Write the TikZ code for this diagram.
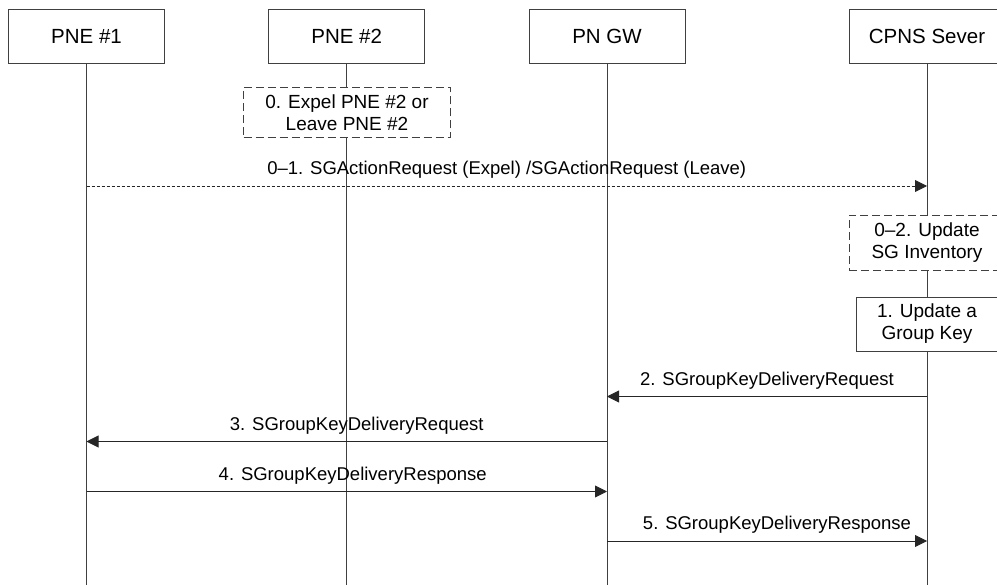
\documentclass[tikz,border=0pt]{standalone}
\usepackage{fontspec}
\setmainfont{Liberation Sans}
\usetikzlibrary{arrows.meta,positioning}

\begin{document}
\begin{tikzpicture}[
  x=1pt,y=-1pt,
  line width=0.9pt,
  actor/.style={draw=black!75,fill=white,minimum width=156pt,minimum height=54pt,inner sep=0pt,font=\fontsize{20.5}{24}\selectfont},
  note/.style={draw=black!75,fill=white,inner sep=0pt,align=center,font=\fontsize{19}{22}\selectfont},
  dnote/.style={note,dash pattern=on 8pt off 4pt},
  life/.style={black!75},
  msg/.style={-{Triangle[length=12pt,width=12pt]},black!85},
  dmsg/.style={msg,dash pattern=on 3pt off 2pt},
  lbl/.style={inner sep=0pt,text=black,font=\fontsize{18.5}{22}\selectfont}
]
  \useasboundingbox (0,0) rectangle (997,585);
  \node[actor] (pne1) at (86.5,36) {PNE \#1};
  \node[actor] (pne2) at (346.7,36) {PNE \#2};
  \node[actor] (gw) at (607,36) {PN GW};
  \node[actor] (cpns) at (927,36) {CPNS Sever};
  \coordinate (pne1e) at (pne1 |- 0,585);
  \coordinate (pne2e) at (pne2 |- 0,585);
  \coordinate (gwe) at (gw |- 0,585);
  \coordinate (cpnse) at (cpns |- 0,585);
  \draw[life] (pne1.south) -- (pne1e);
  \draw[life] (pne2.south) -- (pne2e);
  \draw[life] (gw.south) -- (gwe);
  \draw[life] (cpns.south) -- (cpnse);
  \node[dnote,minimum width=207pt,minimum height=50pt] (n0) at (347,112.5) {0. Expel PNE \#2 or\\Leave PNE \#2};
  \node[dnote,minimum width=156pt,minimum height=55pt] (n02) at (927,242.5) {0--2. Update\\SG Inventory};
  \node[note,minimum width=142pt,minimum height=54pt] (n1) at (927,324) {1. Update a\\Group Key};
  \coordinate (m01a) at (pne1 |- 0,186);
  \coordinate (m01b) at (cpns |- 0,186);
  \coordinate (m2a) at (cpns |- 0,396.5);
  \coordinate (m2b) at (gw |- 0,396.5);
  \coordinate (m3a) at (gw |- 0,441.5);
  \coordinate (m3b) at (pne1 |- 0,441.5);
  \coordinate (m4a) at (pne1 |- 0,491.5);
  \coordinate (m4b) at (gw |- 0,491.5);
  \coordinate (m5a) at (gw |- 0,541);
  \coordinate (m5b) at (cpns |- 0,541);
  \draw[dmsg] (m01a) -- node[lbl,above=7pt] (l01) {0--1. SGActionRequest (Expel) /SGActionRequest (Leave)} (m01b);
  \draw[msg] (m2a) -- node[lbl,above=7pt] (l2) {2. SGroupKeyDeliveryRequest} (m2b);
  \draw[msg] (m3a) -- node[lbl,above=7pt,xshift=10pt] (l3) {3. SGroupKeyDeliveryRequest} (m3b);
  \draw[msg] (m4a) -- node[lbl,above=7pt,xshift=6pt] (l4) {4. SGroupKeyDeliveryResponse} (m4b);
  \draw[msg] (m5a) -- node[lbl,above=7pt,xshift=10pt] (l5) {5. SGroupKeyDeliveryResponse} (m5b);
\end{tikzpicture}
\end{document}
